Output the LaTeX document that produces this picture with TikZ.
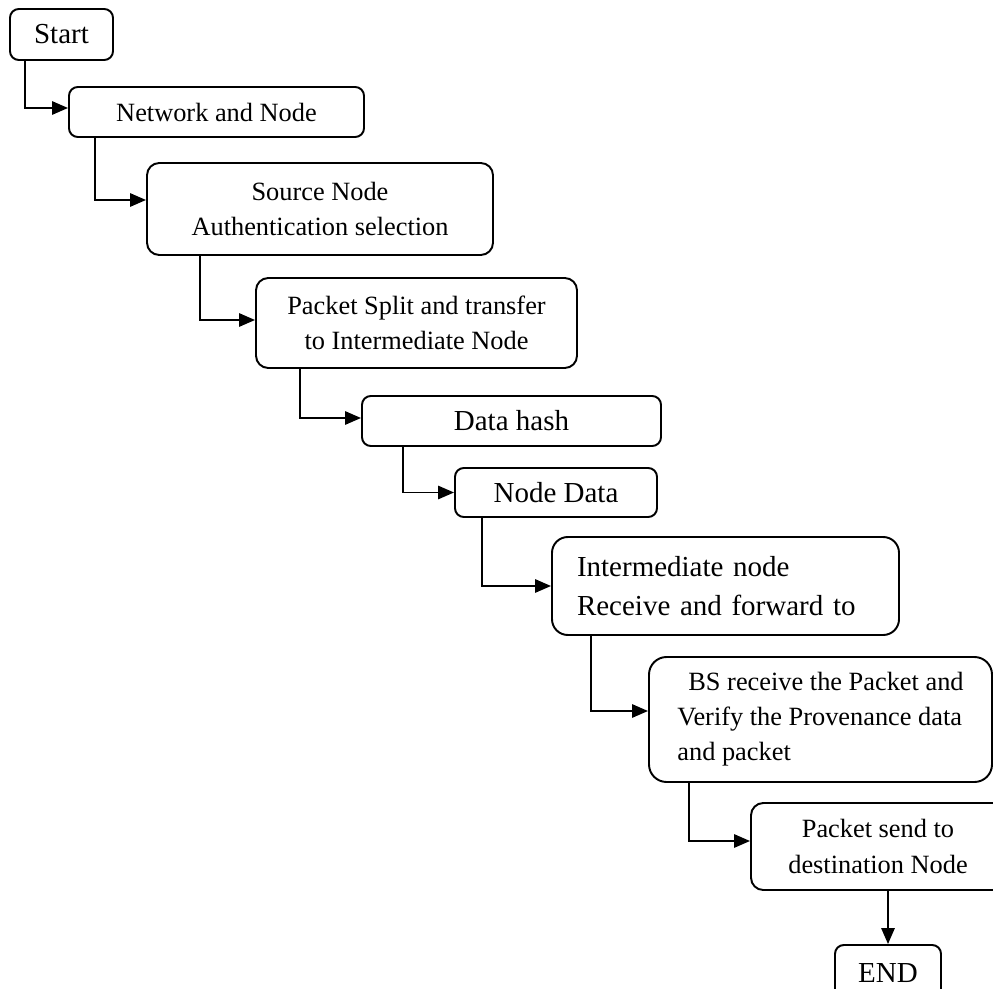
\documentclass[tikz,border=0pt]{standalone}
\usepackage{fontspec}
\setmainfont{Liberation Serif}
\usetikzlibrary{arrows.meta}
\tikzset{
  stage/.style={draw, line width=1.1pt, rounded corners=5pt, inner sep=0pt, align=center, font=\fontsize{15}{20}\selectfont},
  bigtext/.style={font=\fontsize{16.5}{22}\selectfont},
  flow/.style={line width=1.1pt, -{Triangle[length=9pt,width=7.5pt]}}
}
\begin{document}
\begin{tikzpicture}[scale=1.0]
\path[use as bounding box, clip] (0,0) rectangle (19.86,-19.78);

\node[stage, bigtext, minimum width=2.06cm, minimum height=1.02cm] (start) at (1.23,-0.69) {Start};
\node[stage, minimum width=5.90cm, minimum height=1.00cm] (network) at (4.33,-2.24) {Network and Node};
\node[stage, rounded corners=7pt, minimum width=6.92cm, minimum height=1.84cm] (source) at (6.40,-4.18) {Source Node\\Authentication selection};
\node[stage, rounded corners=7pt, minimum width=6.42cm, minimum height=1.80cm] (split) at (8.33,-6.46) {Packet Split and transfer\\to Intermediate Node};
\node[stage, bigtext, minimum width=5.98cm, minimum height=1.00cm] (hash) at (10.23,-8.42) {Data hash};
\node[stage, bigtext, minimum width=4.04cm, minimum height=0.98cm] (nodedata) at (11.12,-9.85) {Node Data};
\node[stage, bigtext, rounded corners=9pt, align=left, text width=5.94cm, inner xsep=0.5cm, minimum height=1.96cm] (inter) at (14.51,-11.72) {Intermediate node\\Receive and forward to};
\node[stage, rounded corners=10pt, align=left, minimum width=6.86cm, minimum height=2.50cm] (bs) at (16.41,-14.39) {\hspace*{0.22cm}BS receive the Packet and\\Verify the Provenance data\\and packet};
\node[stage, rounded corners=7pt, minimum width=5.08cm, minimum height=1.74cm] (send) at (17.56,-16.93) {Packet send to\\destination Node};
\node[stage, bigtext, minimum width=2.12cm, minimum height=1.14cm] (stop) at (17.76,-19.47) {END};

\draw[flow] ([xshift=0.32cm]start.south west) |- ([yshift=0.08cm]network.west);
\draw[flow] ([xshift=0.54cm]network.south west) |- ([yshift=0.18cm]source.west);
\draw[flow] ([xshift=1.08cm]source.south west) |- ([yshift=0.06cm]split.west);
\draw[flow] ([xshift=0.90cm]split.south west) |- ([yshift=0.06cm]hash.west);
\draw[flow] ([xshift=0.84cm]hash.south west) |- (nodedata.west);
\draw[flow] ([xshift=0.56cm]nodedata.south west) |- (inter.west);
\draw[flow] ([xshift=0.80cm]inter.south west) |- ([yshift=0.17cm]bs.west);
\draw[flow] ([xshift=0.82cm]bs.south west) |- ([yshift=0.11cm]send.west);
\draw[flow] (send.south -| stop.north) -- (stop.north);
\end{tikzpicture}
\end{document}
